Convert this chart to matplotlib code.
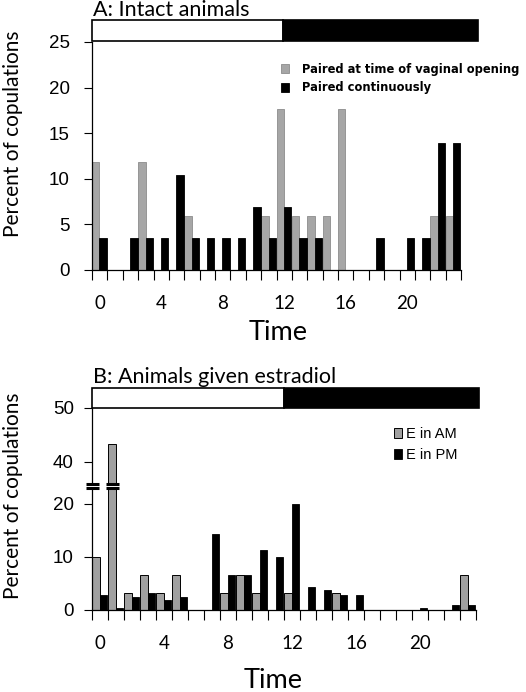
import matplotlib
matplotlib.use('Agg')
import matplotlib.pyplot as plt
from matplotlib.patches import Rectangle
import numpy as np

# Datos: porcentaje de copulas por hora del dia
hours = np.arange(24)
hour_labels = ['0', '4', '8', '12', '16', '20']

# Panel A: animales intactos
a_paired_vo = [11.8, 0, 0, 11.8, 0, 0, 5.9, 0, 0, 0, 0, 5.9,
               17.7, 5.9, 5.9, 5.9, 17.7, 0, 0, 0, 0, 0, 5.9, 5.9]
a_paired_cont = [3.5, 0, 3.5, 3.5, 3.5, 10.4, 3.5, 3.5, 3.5, 3.5, 6.9, 3.5,
                 6.9, 3.5, 3.5, 0, 0, 0, 3.5, 0, 3.5, 3.5, 13.9, 13.9]

# Panel B: animales con estradiol
b_am = [10.0, 43.3, 3.3, 6.6, 3.3, 6.6, 0, 0, 3.3, 6.6, 3.3, 0,
        3.3, 0, 0, 3.3, 0, 0, 0, 0, 0, 0, 0, 6.6]
b_pm = [2.8, 0.4, 2.4, 3.3, 1.9, 2.4, 0, 14.4, 6.6, 6.6, 11.4, 10.0,
        20.0, 4.25, 3.75, 2.8, 2.8, 0, 0, 0, 0.4, 0, 0.9, 0.9]

W, H = 526, 692
GREY = '#a6a6a6'


def box(x0, y0, x1, y1):
    # pixeles (origen arriba-izquierda) -> coordenadas de figura
    return [x0 / W, 1 - y1 / H, (x1 - x0) / W, (y1 - y0) / H]


def day_bar(rect):
    ax = fig.add_axes(rect)
    ax.set_xlim(0, 1)
    ax.set_ylim(0, 1)
    ax.axis('off')
    ax.add_patch(Rectangle((0, 0), 0.495, 1, facecolor='white', edgecolor='black',
                           lw=1.2, clip_on=False))
    ax.add_patch(Rectangle((0.495, 0), 0.505, 1, facecolor='black', edgecolor='black',
                           lw=1.2, clip_on=False))
    return ax


def style_axis(ax, ytick_pad):
    ax.spines['top'].set_visible(False)
    ax.spines['right'].set_visible(False)
    ax.spines['left'].set_linewidth(0.9)
    ax.spines['bottom'].set_linewidth(0.9)
    ax.set_xlim(0, 24)
    ax.tick_params(axis='y', direction='out', length=6, width=0.8, pad=ytick_pad)
    for lab in ax.get_yticklabels():
        lab.set_fontfamily('Liberation Sans')
        lab.set_fontsize(13.5)


fig = plt.figure(figsize=(W / 100, H / 100), dpi=100)

# ---------- Panel A ----------
axA = fig.add_axes(box(92, 42, 461, 270))
axA.bar(hours, a_paired_vo, width=0.48, align='edge', color=GREY, edgecolor='#8c8c8c',
        linewidth=0.6, label='Paired at time of vaginal opening')
axA.bar(hours + 0.48, a_paired_cont, width=0.48, align='edge', color='black',
        edgecolor='black', linewidth=0.6, label='Paired continuously')
axA.set_ylim(0, 25)
axA.set_yticks([0, 5, 10, 15, 20, 25])
style_axis(axA, 10)
axA.set_xticks(np.arange(25))
axA.set_xticks(hours[::4] + 0.5, minor=True)
axA.set_xticklabels([])
axA.set_xticklabels(hour_labels, minor=True, fontfamily='Lato', fontsize=13.5)
axA.tick_params(axis='x', which='major', direction='out', length=7, width=0.8)
axA.tick_params(axis='x', which='minor', length=0, pad=18)
axA.legend(loc='upper left', bbox_to_anchor=(0.5, 0.93), frameon=False,
           prop={'family': 'DejaVu Sans', 'weight': 'bold', 'size': 8.3},
           handlelength=0.65, handleheight=0.8, handletextpad=1.2, labelspacing=0.5,
           borderaxespad=0)

day_bar(box(92, 20, 478, 41))
fig.text(93 / W, 1 - 10 / H, 'A: Intact animals', family='Lato', fontsize=15.5,
         va='center', ha='left')
fig.text(278 / W, 1 - 333 / H, 'Time', family='Lato', fontsize=19.5, va='center', ha='center')
fig.text(13 / W, 1 - 134 / H, 'Percent of copulations', family='Lato', fontsize=15,
         rotation=90, va='center', ha='center')

# ---------- Panel B (eje cortado) ----------
axBt = fig.add_axes(box(92, 408, 476, 484))
axBb = fig.add_axes(box(92, 487.5, 476, 610))
for ax in (axBt, axBb):
    ax.bar(hours, b_am, width=0.5, align='edge', color='#a0a0a0', edgecolor='black',
           linewidth=0.7, label='E in AM')
    ax.bar(hours + 0.5, b_pm, width=0.46, align='edge', color='black', edgecolor='black',
           linewidth=0.6, label='E in PM')
axBt.set_ylim(35.9, 50)
axBt.set_yticks([40, 50])
axBb.set_ylim(0, 23.1)
axBb.set_yticks([0, 10, 20])
style_axis(axBt, 7)
style_axis(axBb, 7)
axBt.spines['bottom'].set_visible(False)
axBt.set_xticks([])
axBb.set_xticks(np.arange(25))
axBb.set_xticks(hours[::4] + 0.5, minor=True)
axBb.set_xticklabels([])
axBb.set_xticklabels(hour_labels, minor=True, fontfamily='Lato', fontsize=13.5)
axBb.tick_params(axis='x', which='major', direction='out', length=7, width=0.8)
axBb.tick_params(axis='x', which='minor', length=0, pad=18)

# marcas de corte del eje y de la barra alta
for x0, x1 in [(-0.4, 0.45), (0.85, 1.7)]:
    axBt.plot([x0, x1], [35.9, 35.9], color='black', lw=2.2, clip_on=False, solid_capstyle='butt')
    axBb.plot([x0, x1], [23.1, 23.1], color='black', lw=2.2, clip_on=False, solid_capstyle='butt')

axBt.legend(loc='upper left', bbox_to_anchor=(0.77, 0.83), frameon=False,
            prop={'family': 'Liberation Sans', 'size': 10.5},
            handlelength=0.55, handleheight=0.7, handletextpad=0.3, labelspacing=0.5,
            borderaxespad=0)

day_bar(box(92, 388, 479, 408))
fig.text(93 / W, 1 - 377 / H, 'B: Animals given estradiol', family='Lato', fontsize=15.5,
         va='center', ha='left')
fig.text(273 / W, 1 - 680 / H, 'Time', family='Lato', fontsize=19.5, va='center', ha='center')
fig.text(13 / W, 1 - 496 / H, 'Percent of copulations', family='Lato', fontsize=15,
         rotation=90, va='center', ha='center')

plt.savefig('out.png', dpi=100)
